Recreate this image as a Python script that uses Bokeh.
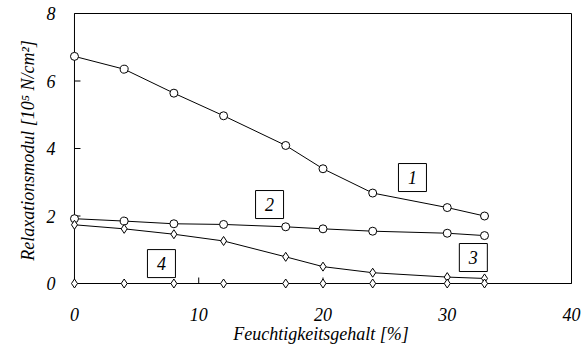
from math import pi
from bokeh.plotting import figure
from bokeh.models import ColumnDataSource, FixedTicker, Label
from bokeh.core.properties import value
from bokeh.embed import file_html
from bokeh.resources import INLINE

# Data
moisture = [0, 4, 8, 12, 17, 20, 24, 30, 33]
curve1 = [6.73, 6.35, 5.64, 4.97, 4.09, 3.40, 2.68, 2.25, 2.00]
curve2 = [1.92, 1.85, 1.77, 1.75, 1.68, 1.62, 1.55, 1.49, 1.42]
curve3 = [1.74, 1.62, 1.46, 1.26, 0.79, 0.50, 0.32, 0.19, 0.15]
curve4 = [0, 0, 0, 0, 0, 0, 0, 0, 0]
x_ticks = [0, 10, 20, 30, 40]
y_ticks = [0, 2, 4, 6, 8]
box_labels = ["1", "2", "3", "4"]
box_x = [27.2, 15.7, 32.1, 7.0]
box_y = [3.14, 2.34, 0.77, 0.59]

FONT = "Liberation Serif"

x0, x1 = x_ticks[0], x_ticks[-1]
y0, y1 = y_ticks[0], y_ticks[-1]

# ranges slightly padded so markers on the axes are not clipped; the visible box is drawn at 0..40 / 0..8
p = figure(width=585, height=350, output_backend="svg", toolbar_location=None,
           x_range=(x0 - 0.4, x1 + 0.08), y_range=(y0 - 0.148, y1 + 0.03),
           min_border_left=69, min_border_right=13, min_border_top=12, min_border_bottom=62)
p.grid.visible = False
p.background_fill_color = "white"
p.border_fill_color = "white"
p.outline_line_color = None

# a small upright text in the same family (helps the family resolve in the svg page)
p.add_layout(Label(x=0, y=0, x_units="screen", y_units="screen", text=" ",
                   text_font=FONT, text_font_style="normal", text_font_size="13px"))

# frame box
p.segment(x0=[x0, x0, x0, x1], y0=[y0, y1, y0, y0], x1=[x1, x1, x0, x1], y1=[y0, y1, y1, y1],
          line_color="black", line_width=1)
# inward ticks
p.ray(x=x_ticks, y=[y0] * len(x_ticks), length=6, length_units="screen", angle=pi / 2,
      line_color="black", line_width=1)
p.ray(x=[x0] * len(y_ticks), y=y_ticks, length=6, length_units="screen", angle=0,
      line_color="black", line_width=1)

src = ColumnDataSource(dict(x=moisture, c1=curve1, c2=curve2, c3=curve3, c4=curve4))

for col, marker in [("c1", "circle"), ("c2", "circle"), ("c3", "diamond"), ("c4", "diamond")]:
    p.line("x", col, source=src, line_color="black", line_width=1)
    p.scatter("x", col, source=src, marker=marker, size=8 if marker == "circle" else 9,
              fill_color="white", line_color="black", line_width=1)

lsrc = ColumnDataSource(dict(x=box_x, y=box_y, t=box_labels))
p.rect("x", "y", width=28, height=28, width_units="screen", height_units="screen",
       source=lsrc, fill_color="white", line_color="black", line_width=1)
p.text("x", "y", text="t", source=lsrc, text_font=value(FONT), text_font_style="italic",
       text_font_size="18px", text_align="center", text_baseline="middle", text_color="black")

for ax, ticks in [(p.xaxis[0], x_ticks), (p.yaxis[0], y_ticks)]:
    ax.ticker = FixedTicker(ticks=ticks)
    ax.minor_tick_line_color = None
    ax.major_tick_line_color = None
    ax.major_tick_in = 0
    ax.major_tick_out = 0
    ax.axis_line_color = None
    ax.major_label_text_font = FONT
    ax.major_label_text_font_style = "italic"
    ax.major_label_text_font_size = "18px"
    ax.major_label_text_color = "black"
    ax.axis_label_text_font = FONT
    ax.axis_label_text_font_style = "italic"
    ax.axis_label_text_font_size = "18px"
    ax.axis_label_text_color = "black"

p.xaxis[0].axis_label = "Feuchtigkeitsgehalt [%]"
p.xaxis[0].major_label_standoff = 19
p.xaxis[0].axis_label_standoff = 0
p.yaxis[0].axis_label = "Relaxationsmodul [10\u2075 N/cm\u00b2]"
p.yaxis[0].major_label_standoff = 14
p.yaxis[0].axis_label_standoff = 6

open("out.html", "w").write(file_html(p, INLINE))
